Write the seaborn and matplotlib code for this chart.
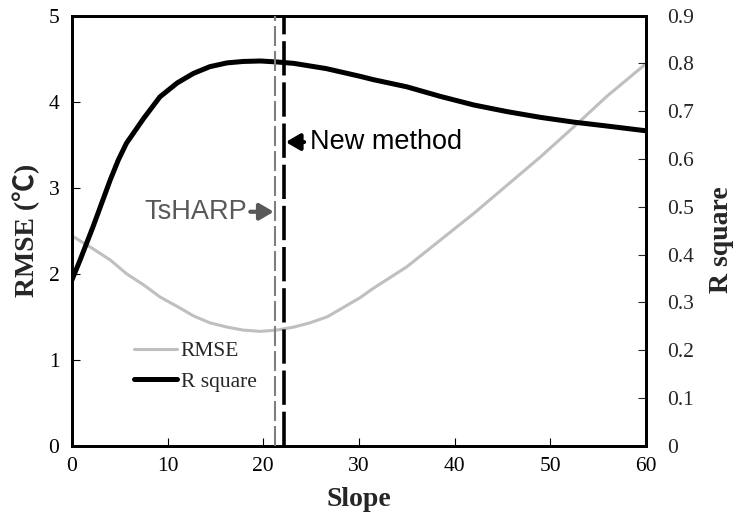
import matplotlib
matplotlib.use('Agg')
import matplotlib.pyplot as plt
import seaborn as sns
import pandas as pd
from matplotlib.ticker import FuncFormatter, MultipleLocator
from matplotlib.lines import Line2D

# ---- data ----
slope_rmse = [0, 2.2, 4.0, 5.7, 7.5, 9.2, 11.0, 12.7, 14.4, 16.2, 17.9, 19.7, 21.4, 23.2,
              24.9, 26.7, 28.4, 30.1, 31.5, 35.0, 38.5, 42.0, 45.5, 49.0, 52.5, 55.9, 60]
rmse = [2.44, 2.29, 2.16, 2.00, 1.87, 1.73, 1.62, 1.51, 1.43, 1.38, 1.345, 1.33, 1.345, 1.38,
        1.43, 1.50, 1.61, 1.72, 1.83, 2.08, 2.39, 2.70, 3.03, 3.36, 3.71, 4.06, 4.44]
slope_r2 = [0, 0.84, 2.2, 3.1, 4.0, 4.85, 5.7, 7.5, 9.2, 11.0, 12.7, 14.4, 16.2, 17.9, 19.7,
            21.4, 23.2, 26.6, 30.1, 31.5, 35.0, 38.5, 42.0, 45.5, 49.0, 52.5, 55.9, 60]
r_square = [0.347, 0.388, 0.458, 0.507, 0.556, 0.598, 0.633, 0.685, 0.730, 0.759, 0.779, 0.793,
            0.801, 0.804, 0.805, 0.803, 0.800, 0.789, 0.773, 0.766, 0.751, 0.731, 0.713, 0.699,
            0.687, 0.677, 0.669, 0.659]
tsharp_slope = 21.2
new_method_slope = 22.2
labels = ["RMSE", "R square"]

sns.set_style("ticks")
plt.rcParams['font.family'] = ['Liberation Serif', 'Noto Sans CJK SC', 'DejaVu Serif']
plt.rcParams['axes.linewidth'] = 2.0

df_rmse = pd.DataFrame({"Slope": slope_rmse, "RMSE": rmse})
df_r2 = pd.DataFrame({"Slope": slope_r2, "R2": r_square})

fig = plt.figure(figsize=(7.34, 5.19), dpi=100)
ax = fig.add_axes([0.098, 0.141, 0.782, 0.829])
ax2 = ax.twinx()

grey_line = "#bfbfbf"
sns.lineplot(data=df_rmse, x="Slope", y="RMSE", ax=ax, color=grey_line, lw=2.2, legend=False)
sns.lineplot(data=df_r2, x="Slope", y="R2", ax=ax2, color="black", lw=3.6, legend=False)
for ln in ax.get_lines() + ax2.get_lines():
    ln.set_solid_joinstyle('round')

ax2.axvline(tsharp_slope, color="#7f7f7f", lw=1.5, dashes=(9.6, 2.4), zorder=3)
ax2.axvline(new_method_slope, color="black", lw=2.6, dashes=(9.5, 1.9), zorder=3)

ax.set_xlim(0, 60)
ax.set_ylim(0, 5)
ax2.set_ylim(0, 0.9)
ax.xaxis.set_major_locator(MultipleLocator(10))
ax.yaxis.set_major_locator(MultipleLocator(1))
ax2.yaxis.set_major_locator(MultipleLocator(0.1))
fmt = FuncFormatter(lambda v, p: f"{v:.1f}".rstrip('0').rstrip('.') if abs(v) > 1e-9 else "0")
ax2.yaxis.set_major_formatter(fmt)

for a in (ax, ax2):
    for s in a.spines.values():
        s.set_linewidth(2.0)
        s.set_color("black")
ax.tick_params(axis='both', direction='in', length=5.5, width=0.8, labelsize=15.5, colors='black')
ax.tick_params(axis='x', pad=8)
ax.tick_params(axis='y', pad=9)
ax2.tick_params(axis='y', direction='in', length=5.5, width=0.8, labelsize=15.5, pad=15)

ax.set_xlabel("Slope", fontsize=20, fontweight='bold', labelpad=8)
ax.set_ylabel("RMSE (℃)", fontsize=20, fontweight='bold', labelpad=6)
ax2.set_ylabel("R square", fontsize=20, fontweight='bold', labelpad=11)
ax2.yaxis.label.set_y(0.48)

# annotations
sans = ['Liberation Sans', 'DejaVu Sans']
ax.annotate("TsHARP", xy=(tsharp_slope - 0.1, 2.72), xytext=(18.3, 2.72),
            fontsize=19.5, color="#595959", family=sans, ha='right', va='center',
            arrowprops=dict(arrowstyle='-|>,head_length=0.6,head_width=0.35', lw=3,
                            color="#595959", shrinkA=0, shrinkB=0, mutation_scale=14))
ax.annotate("New method", xy=(new_method_slope + 0.15, 3.53), xytext=(24.9, 3.53),
            fontsize=19.5, color="black", family=sans, ha='left', va='center',
            arrowprops=dict(arrowstyle='-|>,head_length=0.6,head_width=0.35', lw=3,
                            color="black", shrinkA=2, shrinkB=0, mutation_scale=14))

handles = [Line2D([], [], color=grey_line, lw=2.2), Line2D([], [], color="black", lw=3.6)]
leg = ax2.legend(handles, labels, loc='lower left', bbox_to_anchor=(0.075, 0.08),
                 frameon=False, fontsize=15.5, handlelength=2.0, handletextpad=0.15,
                 labelspacing=0.5)

fig.savefig("out.png", dpi=100)
